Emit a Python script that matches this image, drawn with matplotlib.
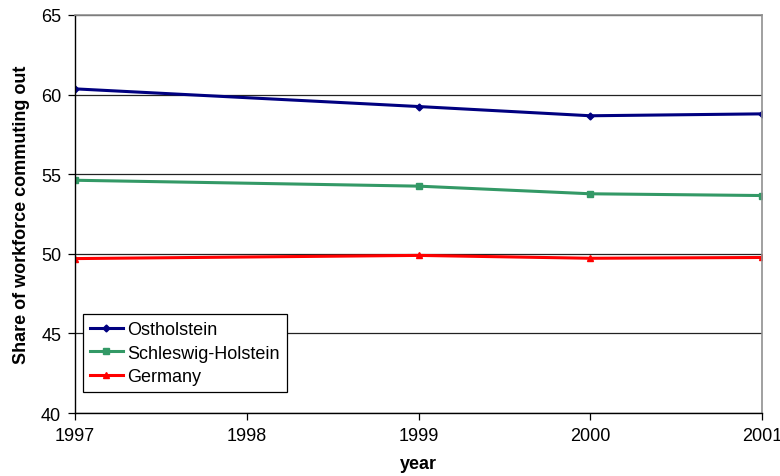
import matplotlib.pyplot as plt

years = [1997, 1999, 2000, 2001]
ostholstein = [60.36, 59.25, 58.67, 58.79]
schleswig_holstein = [54.62, 54.25, 53.77, 53.66]
germany = [49.70, 49.90, 49.72, 49.77]

plt.rcParams['font.family'] = ['Liberation Sans', 'DejaVu Sans']

fig = plt.figure(figsize=(7.8, 4.77), dpi=100)
ax = fig.add_axes([0.0962, 0.132, 0.881, 0.8345])

ax.plot(years, ostholstein, color='#000080', lw=2.2, marker='D', ms=3.5, label='Ostholstein')
ax.plot(years, schleswig_holstein, color='#339966', lw=2.2, marker='s', ms=5, label='Schleswig-Holstein')
ax.plot(years, germany, color='#FF0000', lw=2.2, marker='^', ms=5, label='Germany')

ax.set_xlim(1997, 2001)
ax.set_ylim(40, 65)
ax.set_xticks([1997, 1998, 1999, 2000, 2001])
ax.set_yticks([40, 45, 50, 55, 60, 65])
ax.yaxis.grid(True, color='#222222', lw=0.9)
ax.set_axisbelow(True)
ax.tick_params(labelsize=13, length=5, width=0.9, color='black', pad=5)
for s in ['left', 'bottom']:
    ax.spines[s].set_color('black')
    ax.spines[s].set_linewidth(1.0)
for s in ['top', 'right']:
    ax.spines[s].set_color('#909090')
    ax.spines[s].set_linewidth(1.2)

ax.set_xlabel('year', fontsize=13, fontweight='bold', labelpad=8)
ax.set_ylabel('Share of workforce commuting out', fontsize=13, fontweight='bold', labelpad=8)

leg = ax.legend(loc='upper left', bbox_to_anchor=(83 / 780, 1 - 315 / 477), bbox_transform=fig.transFigure,
                fancybox=False, framealpha=1, edgecolor='black', fontsize=13, borderaxespad=0,
                handlelength=1.8, handletextpad=0.25, labelspacing=0.35, borderpad=0.4)
leg.get_frame().set_linewidth(0.9)

fig.savefig('out.png', dpi=100)
